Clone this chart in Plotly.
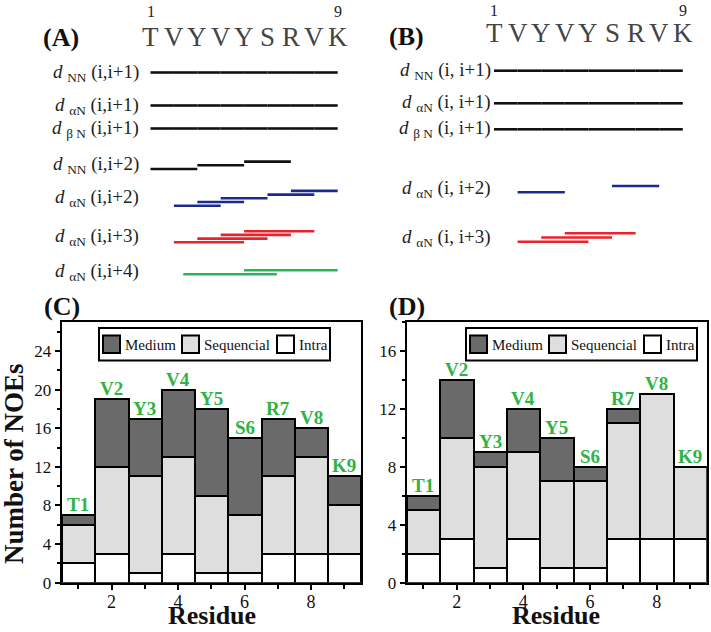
import plotly.graph_objects as go

W, H = 711, 632

# ---------------- data ----------------
sequence = list("TVYVYSRVK")
residue_numbers = [1, 2, 3, 4, 5, 6, 7, 8, 9]
residue_labels = ["T1", "V2", "Y3", "V4", "Y5", "S6", "R7", "V8", "K9"]

# panel (C) NOE counts
c_intra = [2, 3, 1, 3, 1, 1, 3, 3, 3]
c_sequential = [4, 9, 10, 10, 8, 6, 8, 10, 5]
c_medium = [1, 7, 6, 7, 9, 8, 6, 3, 3]

# panel (D) NOE counts
d_intra = [2, 3, 1, 3, 1, 1, 3, 3, 3]
d_sequential = [3, 7, 7, 6, 6, 6, 8, 10, 5]
d_medium = [1, 4, 1, 3, 3, 1, 1, 0, 0]

# NOE connectivity rows: label, offset (i+k), start residues
a_row_labels = ["NN|(i,i+1)", "αN|(i,i+1)", "β N|(i,i+1)", "NN|(i,i+2)",
                "αN|(i,i+2)", "αN|(i,i+3)", "αN|(i,i+4)"]
a_row_offsets = [1, 1, 1, 2, 2, 3, 4]
a_row_starts = [
    [1, 2, 3, 4, 5, 6, 7, 8],
    [1, 2, 3, 4, 5, 6, 7, 8],
    [1, 2, 3, 4, 5, 6, 7, 8],
    [1, 3, 5],
    [2, 3, 4, 6, 7],
    [2, 3, 4, 5],
    [2.4, 5],
]
b_row_labels = ["NN|(i, i+1)", "αN|(i, i+1)", "β N|(i, i+1)", "αN|(i, i+2)", "αN|(i, i+3)"]
b_row_offsets = [1, 1, 1, 2, 3]
b_row_starts = [
    [1, 2, 3, 4, 5, 6, 7, 8],
    [1, 2, 3, 4, 5, 6, 7, 8],
    [1, 2, 3, 4, 5, 6, 7, 8],
    [2, 6],
    [2, 3, 4],
]

# ---------------- layout / style constants ----------------
SERIF = "Liberation Serif"
GREEN = "#2fb344"
MED_C = "#6a6a6a"
SEQ_C = "#dedede"
INT_C = "#ffffff"
ROW_COLORS_A = ["#111111", "#111111", "#111111", "#111111", "#1c2a8f", "#e8232b", "#21b95a"]
ROW_COLORS_B = ["#111111", "#111111", "#111111", "#1c2a8f", "#e8232b"]
# vertical layout of rows (pixel units on the hidden top axes): base y and stagger step
A_ROW_Y = [72.5, 105.5, 128.5, 169, 205.7, 242.3, 274.3]
A_ROW_STEP = [0, 0, 0, 3.7, 3.7, 3.7, 4]
B_ROW_Y = [70.7, 103.3, 129.3, 192.3, 241.7]
B_ROW_STEP = [0, 0, 0, 6.3, 4.2]


def px(x):
    return x / W


def py(y):
    return 1 - y / H


fig = go.Figure()


# ---------------- top connectivity panels (A, B) ----------------
def add_rows(labels, offsets, starts, ys, steps, colors, xa, ya, label_right):
    for lab, off, st, y0, stp, col in zip(labels, offsets, starts, ys, steps, colors):
        xs, yv = [], []
        for k, s in enumerate(st):
            y = y0 - k * stp
            xs += [s, s + off, None]
            yv += [y, y, None]
        fig.add_trace(go.Scatter(x=xs, y=yv, mode="lines", xaxis=xa, yaxis=ya,
                                 line=dict(color=col, width=2.6), hoverinfo="skip",
                                 showlegend=False))
        sub, pair = lab.split("|")
        ymid = y0 - (len(st) - 1) * stp / 2
        fig.add_annotation(xref="paper", yref=ya, x=px(label_right), y=ymid,
                           xanchor="right", yanchor="middle", showarrow=False,
                           text=f"<i>d</i> <sub>{sub}</sub> {pair}",
                           font=dict(family=SERIF, size=19, color="#222222"))


add_rows(a_row_labels, a_row_offsets, a_row_starts, A_ROW_Y, A_ROW_STEP, ROW_COLORS_A, "x3", "y3", 141)
add_rows(b_row_labels, b_row_offsets, b_row_starts, B_ROW_Y, B_ROW_STEP, ROW_COLORS_B, "x4", "y4", 493)

for xa, ya, sy, ny in (("x3", "y3", 36.5, 11), ("x4", "y4", 33, 10)):
    for r, letter in zip(residue_numbers, sequence):
        fig.add_annotation(xref=xa, yref=ya, x=r, y=sy, text=letter, showarrow=False,
                           xanchor="center", yanchor="middle",
                           font=dict(family=SERIF, size=27, color="#444444"))
    for r in (residue_numbers[0], residue_numbers[-1]):
        fig.add_annotation(xref=xa, yref=ya, x=r, y=ny, text=str(r), showarrow=False,
                           xanchor="center", yanchor="middle",
                           font=dict(family=SERIF, size=16, color="#222222"))


# ---------------- bar panels (C, D) ----------------
def add_bars(intra, seq, med, xa, ya):
    for name, vals, col in (("Intra", intra, INT_C), ("Sequencial", seq, SEQ_C), ("Medium", med, MED_C)):
        fig.add_trace(go.Bar(x=residue_numbers, y=vals, name=name, width=1,
                             marker=dict(color=col, line=dict(color="black", width=2)),
                             xaxis=xa, yaxis=ya, showlegend=False))
    totals = [a + b + c for a, b, c in zip(intra, seq, med)]
    for r, t, lab in zip(residue_numbers, totals, residue_labels):
        fig.add_annotation(xref=xa, yref=ya, x=r, y=t, text=f"<b>{lab}</b>", showarrow=False,
                           yanchor="bottom", yshift=-2,
                           font=dict(family=SERIF, size=19, color=GREEN))


add_bars(c_intra, c_sequential, c_medium, "x", "y")
add_bars(d_intra, d_sequential, d_medium, "x2", "y2")


def legend_box(left):
    top, bot = 328, 360.5
    fig.add_shape(type="rect", xref="paper", yref="paper", x0=px(left), x1=px(left + 231),
                  y0=py(bot), y1=py(top), line=dict(color="black", width=2), fillcolor="white")
    for dx, name, col in ((4, "Medium", MED_C), (83, "Sequencial", SEQ_C), (178, "Intra", INT_C)):
        fig.add_shape(type="rect", xref="paper", yref="paper", x0=px(left + dx), x1=px(left + dx + 17),
                      y0=py(353), y1=py(335.5), line=dict(color="black", width=2), fillcolor=col)
        fig.add_annotation(xref="paper", yref="paper", x=px(left + dx + 20), y=py(344.5),
                           xanchor="left", yanchor="middle", text=name, showarrow=False,
                           font=dict(family=SERIF, size=15, color="#111111"))


legend_box(99)
legend_box(466)


def xax(domain):
    return dict(domain=domain, range=[0.5, 9.5], dtick=2, tick0=0, ticks="outside", ticklen=5,
                tickwidth=2, tickcolor="black", showline=True, linewidth=2, linecolor="black",
                mirror=True, showgrid=False, zeroline=False, ticklabelstandoff=-3, automargin=False,
                tickfont=dict(family=SERIF, size=18, color="#111111"),
                minor=dict(dtick=1, tick0=1, ticks="outside", ticklen=4, tickwidth=2, tickcolor="black"))


def yax(domain, top, anchor):
    return dict(domain=domain, range=[0, top], dtick=4, tick0=0, ticks="outside", ticklen=5,
                tickwidth=2, tickcolor="black", showline=True, linewidth=2, linecolor="black",
                mirror=True, showgrid=False, zeroline=False, anchor=anchor, automargin=False,
                tickfont=dict(family=SERIF, size=17, color="#111111"),
                minor=dict(dtick=2, tick0=0, ticks="outside", ticklen=3, tickwidth=2, tickcolor="black"))


ydom = [py(582.7), py(322)]
hidden = dict(visible=False, showgrid=False, zeroline=False, automargin=False)
fig.update_layout(
    width=W, height=H, autosize=False, margin=dict(l=0, r=0, t=0, b=0, pad=0, autoexpand=False),
    paper_bgcolor="white", plot_bgcolor="white", barmode="stack", bargap=0,
    showlegend=False,
    xaxis=dict(**xax([px(61.7), px(361)]), anchor="y"),
    yaxis=yax(ydom, 27, "x"),
    xaxis2=dict(**xax([px(406.7), px(706.7)]), anchor="y2"),
    yaxis2=yax(ydom, 18, "x2"),
    xaxis3=dict(**hidden, domain=[0, px(360)], range=[1 - 150.5 / 23.4, 1 + (360 - 150.5) / 23.4], anchor="y3"),
    yaxis3=dict(**hidden, domain=[py(290), 1], range=[290, 0], anchor="x3"),
    xaxis4=dict(**hidden, domain=[px(360), 1], range=[1 - (494 - 360) / 23.6, 1 + (711 - 494) / 23.6], anchor="y4"),
    yaxis4=dict(**hidden, domain=[py(290), 1], range=[290, 0], anchor="x4"),
)

# panel letters and axis titles
for lab, x, y in (("(A)", 61, 38), ("(B)", 406, 37), ("(C)", 62, 307), ("(D)", 407, 307)):
    fig.add_annotation(xref="paper", yref="paper", x=px(x), y=py(y), text=f"<b>{lab}</b>",
                       showarrow=False, xanchor="center", yanchor="middle",
                       font=dict(family=SERIF, size=26, color="#111111"))
for x in (212, 556):
    fig.add_annotation(xref="paper", yref="paper", x=px(x), y=0, text="<b>Residue</b>",
                       showarrow=False, xanchor="center", yanchor="bottom", yshift=0,
                       font=dict(family=SERIF, size=26, color="#111111"))
fig.add_annotation(xref="paper", yref="paper", x=px(14), y=py(464), text="<b>Number of NOEs</b>",
                   showarrow=False, textangle=-90, xanchor="center", yanchor="middle",
                   font=dict(family=SERIF, size=27, color="#111111"))

fig.write_html("out.html", config={"displayModeBar": False},
               post_script="document.body.style.margin='0';document.body.style.overflow='hidden';")
